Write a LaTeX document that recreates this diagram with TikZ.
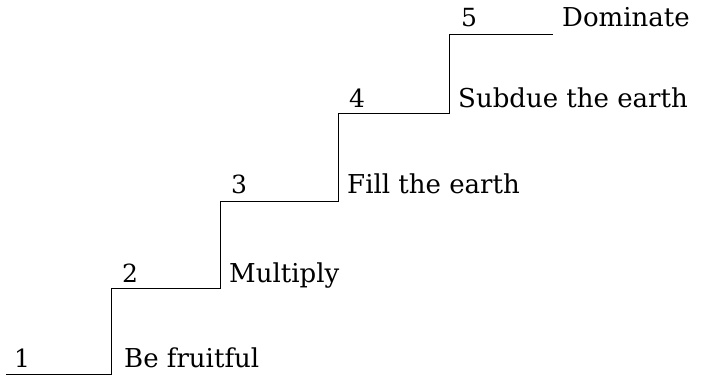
\documentclass[tikz,border=0pt]{standalone}
\usepackage{fontspec}
\setmainfont{DejaVu Serif}
\usepackage{tikz}
\tikzset{>=latex}
\tikzset{steplabel/.style={anchor=base west, inner sep=0pt, font=\fontsize{26}{30}\selectfont}}
\tikzset{stepnum/.style={anchor=base, inner sep=0pt, font=\fontsize{25}{28}\selectfont}}
\definecolor{stairline}{HTML}{000000}

\begin{document}
\begin{tikzpicture}[x=1pt, y=-1pt]
            \useasboundingbox (0, 0) rectangle (703, 377);
            \coordinate (s0) at (6, 374);
            \coordinate (s1) at (111, 374);
            \coordinate (s2) at (111, 288);
            \coordinate (s3) at (220, 288);
            \coordinate (s4) at (220, 201);
            \coordinate (s5) at (338, 201);
            \coordinate (s6) at (338, 113);
            \coordinate (s7) at (449, 113);
            \coordinate (s8) at (449, 34);
            \coordinate (s9) at (553, 34);
            \draw[thick, stairline] (s0) -- (s1) -- (s2) -- (s3) -- (s4) -- (s5) -- (s6) -- (s7) -- (s8) -- (s9);
            \node[stepnum] (n1) at (22, 367) {1};
            \node[stepnum] (n2) at (130, 282) {2};
            \node[stepnum] (n3) at (239, 193) {3};
            \node[stepnum] (n4) at (357, 107) {4};
            \node[stepnum] (n5) at (469, 27) {5};
            \node[steplabel] (l1) at (124, 367) {Be fruitful};
            \node[steplabel] (l2) at (229, 282) {Multiply};
            \node[steplabel] (l3) at (347, 193) {Fill the earth};
            \node[steplabel] (l4) at (458, 107) {Subdue the earth};
            \node[steplabel] (l5) at (562, 27) {Dominate};
        \end{tikzpicture}
\end{document}
